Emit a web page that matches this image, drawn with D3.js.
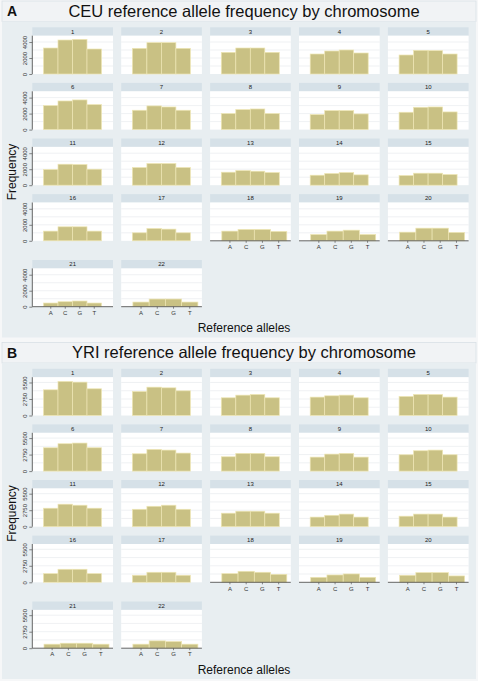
<!DOCTYPE html>
<html><head><meta charset="utf-8">
<script src="https://cdn.jsdelivr.net/npm/d3@7"></script>
<style>body{margin:0;background:#fff}svg{display:block;font-family:"Liberation Sans",Arial,sans-serif}</style>
</head><body><svg id="c" width="478" height="681"></svg>
<script>
// ---- data ----
const alleles = ["A", "C", "G", "T"];
const chromosomes = ["1","2","3","4","5","6","7","8","9","10","11","12","13","14","15","16","17","18","19","20","21","22"];
// CEU counts per chromosome (index = chromosome-1)
const ceuA = [3250,3210,2710,2500,2375,3000,2420,2000,1875,2170,1960,2210,1625,1250,1210,1210,1000,1210,790,1080,460,580];
const ceuC = [4250,3920,3250,2875,2960,3580,2960,2500,2375,2790,2625,2710,1830,1460,1500,1750,1540,1420,1210,1580,625,960];
const ceuG = [4330,3920,3250,3000,2920,3710,2830,2580,2375,2830,2580,2710,1750,1580,1500,1750,1460,1420,1330,1580,710,960];
const ceuT = [3125,3210,2710,2625,2500,3125,2420,2000,1960,2210,2000,2210,1580,1290,1330,1210,1000,1170,790,1040,460,580];
// YRI counts per chromosome
const yriA = [4280,4000,2950,3060,3170,3890,2890,2390,2330,2720,3080,2900,2250,1600,1750,1440,1170,1440,830,1170,670,670];
const yriC = [5670,4720,3390,3280,3500,4560,3610,2950,2830,3390,3750,3400,2580,1900,2100,2170,1670,1830,1220,1610,830,1220];
const yriG = [5560,4610,3500,3390,3500,4670,3500,2950,2950,3500,3580,3580,2580,2100,2100,2170,1670,1670,1390,1610,830,1110];
const yriT = [4450,4110,2950,2950,3060,3890,3000,2390,2330,2720,3080,2900,2250,1600,1600,1440,1170,1330,830,1060,670,670];
const ceuTicks = [0, 2000, 4000];
const yriTicks = [0, 2750, 5500];
const titles = ["CEU reference allele frequency by chromosome", "YRI reference allele frequency by chromosome"];
const panelLabels = ["A", "B"];
const yTitle = "Frequency";
const xTitle = "Reference alleles";

// ---- drawing ----
const svg = d3.select("#c");
svg.append("rect").attr("width",478).attr("height",681).attr("fill","#f6f7f8");

const colLeft = i => 32.3 + i*88.9;
const plotW = 80.7, plotH = 38.3, stripH = 8.4;
const baseRel = [74, 129.6, 185.2, 240.8, 306.7];

function panel(p, off, A, C, G, T, ticks, yMax, gridStep, wideSet) {
  const g = svg.append("g").attr("transform", `translate(0,${off})`);
  g.append("rect").attr("x",2).attr("y",1).attr("width",474).attr("height",20.5)
    .attr("fill","#f1f3f5").attr("stroke","#d9e0e5").attr("stroke-width",0.8);
  g.append("rect").attr("x",2).attr("y",21.5).attr("width",474).attr("height",316)
    .attr("fill","#e8eef1");
  g.append("text").attr("x",7).attr("y",16).attr("font-size",14).attr("font-weight","bold")
    .attr("fill","#111").text(panelLabels[p]);
  g.append("text").attr("x",244).attr("y",16.7).attr("font-size",16.5).attr("text-anchor","middle")
    .attr("fill","#111").text(titles[p]);
  g.append("text").attr("transform","translate(15.5,172) rotate(-90)").attr("font-size",12)
    .attr("text-anchor","middle").attr("fill","#111").text(yTitle);
  g.append("text").attr("x",244).attr("y",332).attr("font-size",12).attr("text-anchor","middle")
    .attr("fill","#111").text(xTitle);

  const y = d3.scaleLinear().domain([0, yMax]).range([plotH, 0]);
  chromosomes.forEach((chr, k) => {
    const row = Math.floor(k/5), col = k%5;
    const left = colLeft(col), base = baseRel[row];
    const fg = g.append("g").attr("transform", `translate(${left},${base - plotH})`);
    fg.append("rect").attr("x",0).attr("y",-stripH).attr("width",plotW).attr("height",stripH).attr("fill","#d6e1e8");
    fg.append("text").attr("x",plotW/2).attr("y",-2.2).attr("font-size",6).attr("text-anchor","middle")
      .attr("fill","#222").text(chr);
    fg.append("rect").attr("x",0).attr("y",0).attr("width",plotW).attr("height",plotH).attr("fill","#fff");
    fg.selectAll("line.grid").data(d3.range(gridStep, yMax, gridStep)).join("line")
      .attr("x1",0).attr("x2",plotW).attr("y1",d=>y(d)).attr("y2",d=>y(d))
      .attr("stroke","#ebeef0").attr("stroke-width",0.8);
    const wide = wideSet.includes(chr);
    const x = d3.scaleBand().domain(alleles).range(wide ? [11.7, 76.7] : [11.2, 69.2]).padding(0);
    const vals = [A[k], C[k], G[k], T[k]];
    fg.selectAll("rect.bar").data(alleles).join("rect").attr("class","bar")
      .attr("x", d=>x(d)).attr("width", x.bandwidth())
      .attr("y", (d,i)=>y(vals[i])).attr("height", (d,i)=>plotH - y(vals[i]))
      .attr("fill","#c9c184").attr("stroke","#eee6b4").attr("stroke-width",0.7);
    if (k >= 17) {
      const ax = fg.append("g").attr("transform",`translate(0,${plotH})`)
        .call(d3.axisBottom(x).tickSize(2).tickPadding(2));
      ax.select(".domain").attr("d",`M0,0H${plotW}`).attr("stroke","#555").attr("stroke-width",0.9);
      ax.selectAll(".tick line").attr("stroke","#555").attr("stroke-width",0.7);
      ax.selectAll(".tick text").attr("font-size",6).attr("fill","#333").attr("font-family","Liberation Sans, Arial, sans-serif");
    }
    if (col === 0) {
      const ay = fg.append("g").call(d3.axisLeft(y).tickValues(ticks).tickFormat(d3.format("d")).tickSize(3).tickPadding(1));
      ay.select(".domain").attr("d",`M0,0V${plotH}`).attr("stroke","#555").attr("stroke-width",0.9);
      ay.selectAll(".tick line").attr("stroke","#555").attr("stroke-width",0.7);
      ay.selectAll(".tick text").attr("font-size",6).attr("fill","#333")
        .attr("font-family","Liberation Sans, Arial, sans-serif")
        .attr("text-anchor","middle").attr("dy",null)
        .attr("transform","translate(-5,0) rotate(-90)").attr("x",0).attr("y",0);
    }
  });
}

panel(0, 0, ceuA, ceuC, ceuG, ceuT, ceuTicks, 4790, 1000, ["18","19","20","22"]);
panel(1, 341.5, yriA, yriC, yriG, yriT, yriTicks, 6380, 1375, ["18","19","20","21","22"]);
</script></body></html>
